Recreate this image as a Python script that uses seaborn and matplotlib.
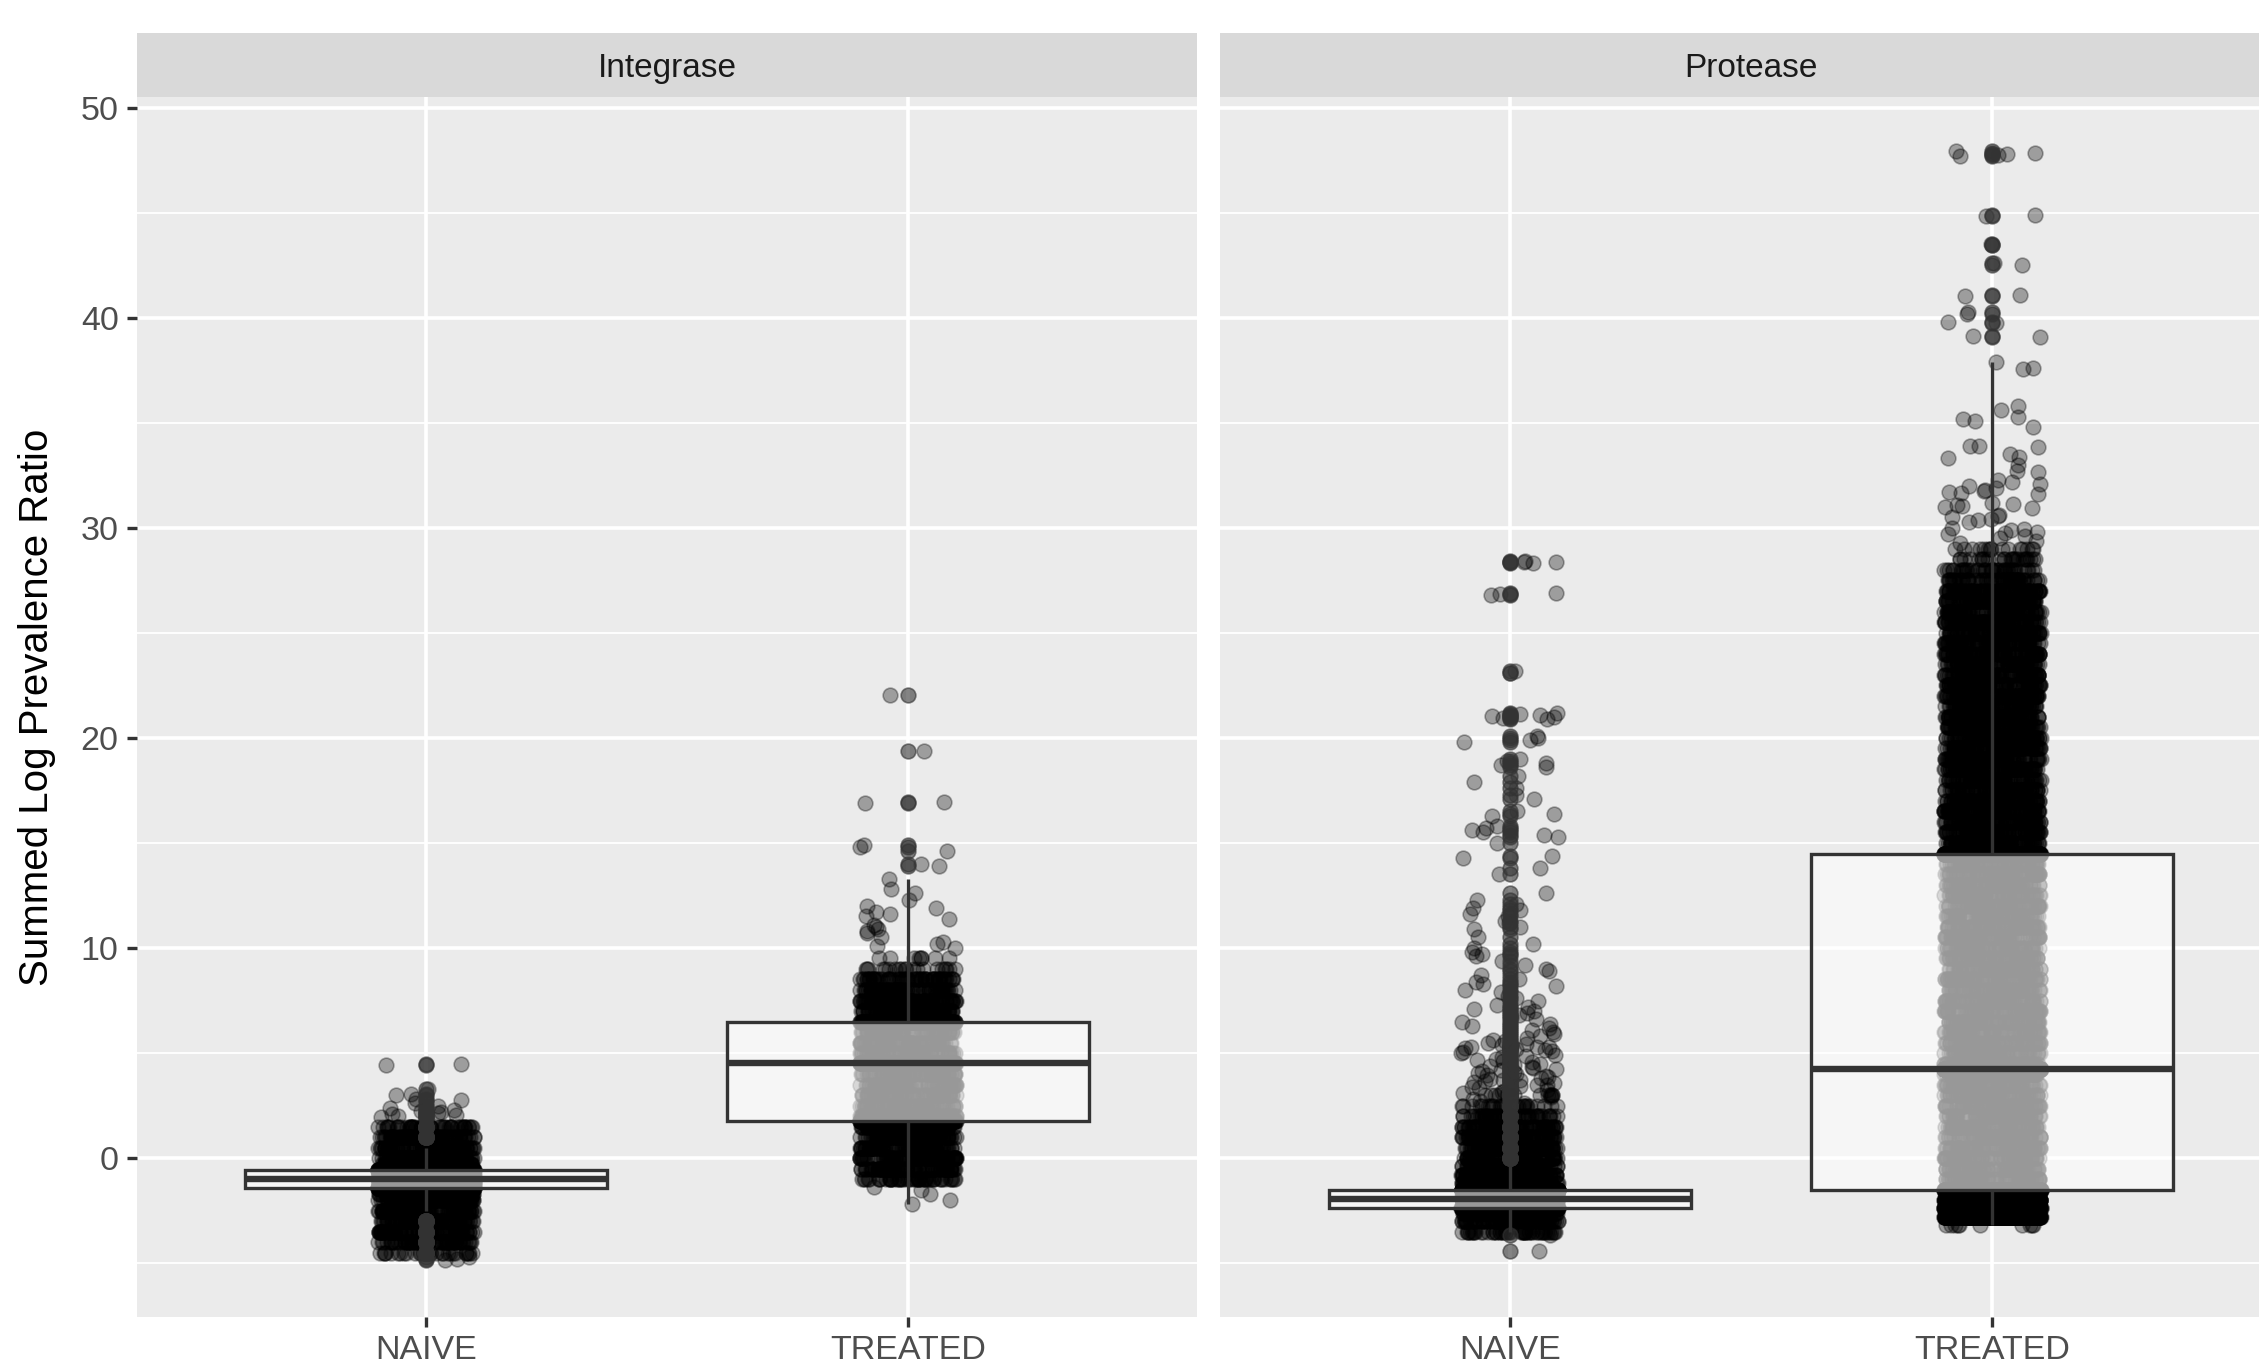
import numpy as np
import pandas as pd
import seaborn as sns
import matplotlib.pyplot as plt
from matplotlib.ticker import MultipleLocator

# ── data ───────────────────────────────────────────────────────────────────────
genes = ["Integrase", "Protease"]
groups = ["NAIVE", "TREATED"]

# dense cores: y value -> number of sequences sitting at that value
int_naive_levels = [-4.5, -4.0, -3.5, -3.0, -2.5, -2.0, -1.7, -1.43, -1.2, -1.0, -0.8, -0.57,
                    -0.3, 0.0, 0.5, 1.0, 1.5]
int_naive_counts = [30, 70, 80, 80, 90, 100, 80, 500, 300, 500, 300, 500,
                    80, 100, 90, 80, 50]
int_naive_single = [-4.85, -4.8, -4.7,
                    1.9, 1.95, 2.0, 2.05, 2.1, 2.15, 2.2, 2.25, 2.3, 2.4, 2.5, 2.6,
                    2.75, 2.8, 3.0, 3.05, 3.3, 4.45, 4.5]

int_treated_levels = [-1.0, -0.5, 0.0, 0.5, 1.0, 1.5, 1.76, 2.0, 2.5, 3.0, 3.5, 4.0, 4.52,
                      5.0, 5.5, 6.0, 6.48, 7.0, 7.5, 8.0, 8.5, 9.0, 9.5]
int_treated_counts = [50, 80, 90, 90, 90, 90, 300, 80, 80, 80, 80, 80, 400,
                      80, 80, 80, 300, 90, 90, 80, 60, 20, 8]
int_treated_single = [-2.2, -2.0, -1.7, -1.5, -1.4,
                      10.0, 10.1, 10.2, 10.3, 10.5, 10.7, 10.8, 10.9, 11.0, 11.1, 11.4, 11.5,
                      11.6, 11.7, 11.9, 12.0, 12.3, 12.6, 12.8, 13.3,
                      13.9, 14.0, 14.6, 14.8, 14.9, 16.9, 16.95, 19.4, 22.05]

prot_naive_levels = [-3.5, -3.0, -2.6, -2.37, -2.15, -1.95, -1.75, -1.52,
                     -1.2, -0.8, -0.4, 0.0, 0.5, 1.0, 1.5, 2.0, 2.5, 3.0]
prot_naive_counts = [50, 90, 90, 900, 150, 900, 150, 900,
                     90, 90, 90, 90, 90, 90, 90, 50, 25, 12]
prot_naive_single = [-4.43, -3.67,
                     2.6, 2.7, 2.8, 2.9, 3.0, 3.15, 3.35, 3.5, 3.7, 3.95, 4.25, 4.45, 4.65,
                     5.05, 5.3, 5.55,
                     3.1, 3.2, 3.25, 3.3, 3.4, 3.45, 3.5, 3.55, 3.6, 3.65, 3.7, 3.75, 3.8, 3.85, 3.9,
                     4.0, 4.05, 4.1, 4.15, 4.2, 4.3, 4.35, 4.4, 4.5, 4.55, 4.6, 4.7, 4.8, 4.85, 4.9,
                     5.0, 5.1, 5.15, 5.2, 5.25, 5.3, 5.3, 5.35, 5.4, 5.45, 5.5, 5.6, 5.7, 5.8, 5.9,
                     6.0, 6.1, 6.2, 6.3, 6.4, 6.5, 6.6, 6.7, 6.8, 6.9,
                     7.0, 7.1, 7.2, 7.3, 7.5, 7.6, 7.7, 7.9, 8.0, 8.2, 8.3, 8.4, 8.5, 8.7, 8.9,
                     9.0, 9.2, 9.4, 9.6, 9.7, 9.8, 10.0, 10.2, 10.5, 10.9, 11.0, 11.2, 11.3,
                     11.5, 11.6, 11.8, 11.9, 12.1, 12.3, 12.6,
                     13.5, 13.8, 14.3, 14.4, 15.0, 15.3, 15.4, 15.5, 15.6, 15.7, 15.8,
                     16.3, 16.4, 16.5, 17.1, 17.3, 17.6, 17.9, 18.2, 18.6, 18.7, 18.8, 18.9, 19.0,
                     19.8, 19.9, 20.0, 20.1, 20.9, 20.95, 21.0, 21.05, 21.1, 21.15, 21.2,
                     23.1, 23.2, 26.8, 26.85, 26.9, 28.35, 28.4, 28.4, 28.45]

prot_treated_levels = [-3.2, -2.8, -2.4, -2.0, -1.5,
                       -1.0, -0.5, 0.0, 0.5, 1.0, 1.5, 2.0, 2.5, 3.0, 3.5, 4.0, 4.22,
                       4.5, 5.0, 5.5, 6.0, 6.5, 7.0, 7.5, 8.0, 8.5, 9.0, 9.5, 10.0, 10.5,
                       11.0, 11.5, 12.0, 12.5, 13.0, 13.5, 14.0, 14.47,
                       15.0, 15.5, 16.0, 16.5, 17.0, 17.5, 18.0, 18.5, 19.0, 19.5, 20.0, 20.5,
                       21.0, 21.5, 22.0, 22.5, 23.0, 23.5, 24.0, 24.5, 25.0, 25.5, 26.0, 26.5,
                       27.0, 27.5, 28.0, 28.5, 29.0]
prot_treated_counts = [10, 600, 700, 700, 1000,
                       80, 80, 80, 80, 80, 80, 80, 80, 80, 80, 80, 2050,
                       80, 80, 80, 80, 80, 80, 80, 80, 80, 80, 80, 80, 80,
                       80, 80, 80, 80, 80, 80, 80, 1000,
                       90, 90, 90, 90, 90, 90, 90, 90, 90, 90, 90, 90,
                       90, 90, 90, 90, 90, 90, 90, 90, 90, 90, 90, 90,
                       90, 60, 40, 25, 15]
prot_treated_single = [29.3, 29.4, 29.5, 29.6, 29.7, 29.75, 29.8, 29.9, 29.95, 30.0,
                       30.3, 30.4, 30.45, 30.5, 30.55, 30.6, 30.95, 31.0, 31.05, 31.1, 31.15, 31.2,
                       31.6, 31.65, 31.7, 31.75, 31.8, 31.9, 32.0, 32.1, 32.2, 32.3,
                       32.65, 32.7, 33.0, 33.35, 33.4, 33.5, 33.85, 33.9, 33.9,
                       34.8, 35.1, 35.2, 35.3, 35.6, 35.8, 37.55, 37.6, 37.9,
                       39.1, 39.15, 39.75, 39.8, 40.2, 40.3, 41.05, 41.1, 42.5, 42.6,
                       43.45, 43.5, 44.85, 44.9, 47.7, 47.75, 47.8, 47.85, 47.95]

y_ticks = [0, 10, 20, 30, 40, 50]

# ── build long table ───────────────────────────────────────────────────────────
parts = {
    ("Integrase", "NAIVE"): (int_naive_levels, int_naive_counts, int_naive_single),
    ("Integrase", "TREATED"): (int_treated_levels, int_treated_counts, int_treated_single),
    ("Protease", "NAIVE"): (prot_naive_levels, prot_naive_counts, prot_naive_single),
    ("Protease", "TREATED"): (prot_treated_levels, prot_treated_counts, prot_treated_single),
}
frames = []
for (gene, grp), (lv, ct, single) in parts.items():
    vals = np.concatenate([np.repeat(lv, ct), single])
    frames.append(pd.DataFrame({"gene": gene, "group": grp, "value": vals}))
df = pd.concat(frames, ignore_index=True)

# ── style (ggplot grey look) ───────────────────────────────────────────────────
plt.rcParams['font.family'] = ['Liberation Sans', 'DejaVu Sans']

W, H = 2259, 1360
fig = plt.figure(figsize=(W / 100, H / 100), dpi=100)

panel_px = [(137, 1197), (1220, 2282)]   # right panel runs past the crop edge
top_px, bot_px, strip_top_px = 97, 1317, 33

np.random.seed(7)
for i, gene in enumerate(genes):
    x0, x1 = panel_px[i]
    ax = fig.add_axes([x0 / W, (H - bot_px) / H, (x1 - x0) / W, (bot_px - top_px) / H])
    ax.set_facecolor("#EBEBEB")
    sub = df[df["gene"] == gene]

    sns.stripplot(data=sub, x="group", y="value", order=groups, ax=ax,
                  jitter=0.1, color="black", alpha=0.33, size=10.6,
                  linewidth=1.2, edgecolor="black", zorder=1)
    sns.boxplot(data=sub, x="group", y="value", order=groups, ax=ax,
                width=0.75, whis=1.5, color="white", linecolor="#333333",
                linewidth=2.4, showcaps=False, fliersize=10.6,
                boxprops={"facecolor": (1, 1, 1, 0.6)},
                medianprops={"linewidth": 4.6},
                flierprops={"marker": "o", "markerfacecolor": "#333333",
                            "markeredgecolor": "#333333", "alpha": 0.6,
                            "markeredgewidth": 1.2})

    ax.set_xlim(-0.6, 1.6)
    ax.set_ylim(-7.57, 50.52)
    ax.set_yticks(y_ticks)
    ax.yaxis.set_minor_locator(MultipleLocator(5))
    ax.set_axisbelow(True)
    ax.grid(True, which="major", axis="both", color="white", linewidth=2.6)
    ax.grid(True, which="minor", axis="y", color="white", linewidth=1.3)
    for s in ax.spines.values():
        s.set_visible(False)
    ax.tick_params(which="major", length=7.2, width=2.4, color="#333333",
                   labelsize=24.5, labelcolor="#4D4D4D")
    ax.tick_params(axis="x", pad=6)
    ax.tick_params(axis="y", pad=6)
    ax.tick_params(which="minor", length=0)
    ax.set_xlabel("")
    if i == 0:
        ax.set_ylabel("Summed Log Prevalence Ratio", fontsize=29, color="black")
        ax.yaxis.set_label_coords(-0.0764, 0.500)
    else:
        ax.set_ylabel("")
        ax.tick_params(axis="y", left=False, labelleft=False)

    # facet strip
    sax = fig.add_axes([x0 / W, (H - top_px) / H, (x1 - x0) / W, (top_px - strip_top_px) / H])
    sax.set_facecolor("#D9D9D9")
    sax.set_xticks([])
    sax.set_yticks([])
    for s in sax.spines.values():
        s.set_visible(False)
    sax.text(0.5, 0.3125, gene, transform=sax.transAxes, ha="center", va="baseline",
             fontsize=24, color="#1A1A1A")

plt.savefig("out.png", dpi=100, facecolor="white")
